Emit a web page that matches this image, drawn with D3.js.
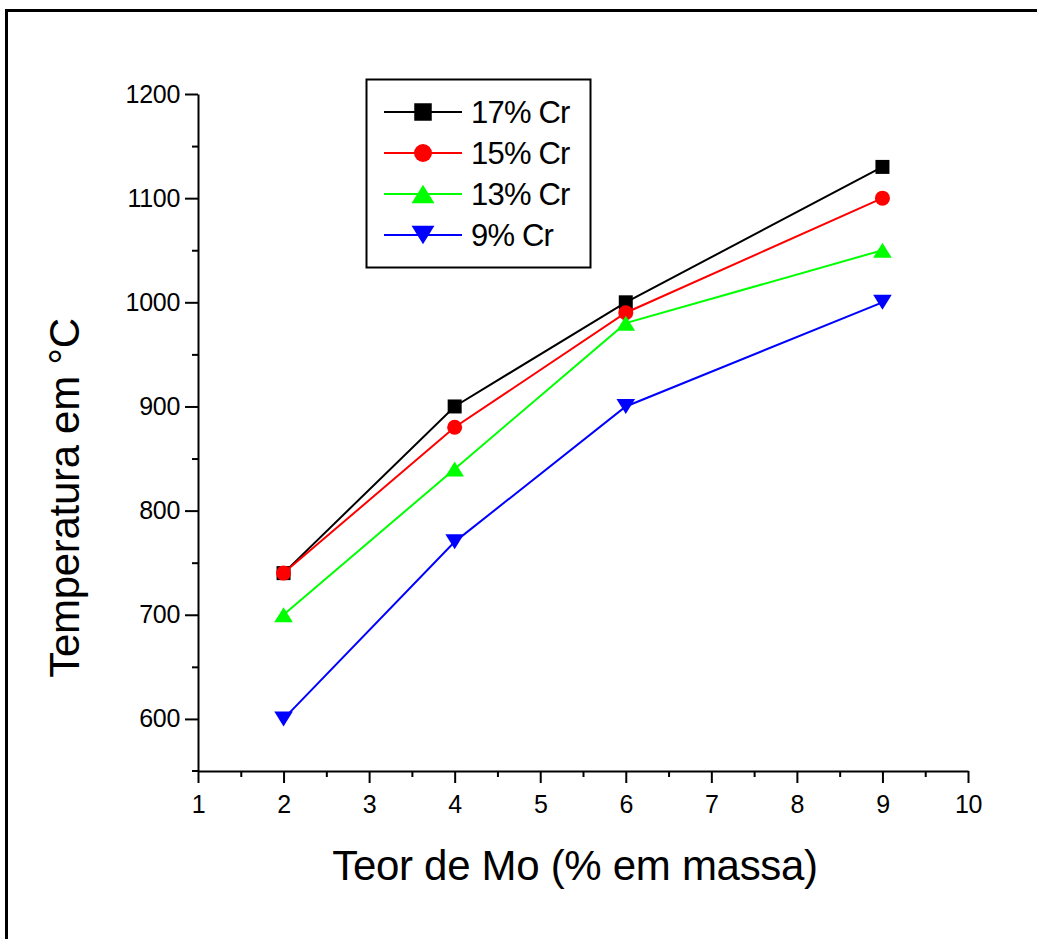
<!DOCTYPE html>
<html>
<head>
<meta charset="utf-8">
<script src="https://cdn.jsdelivr.net/npm/d3@7"></script>
<style>
  html, body { margin: 0; padding: 0; background: #fff; }
  svg { display: block; }
  text { font-family: "Liberation Sans", Arial, sans-serif; fill: #000; }
</style>
</head>
<body>
<svg id="chart" width="1037" height="939"></svg>
<script>
// ---- data ----
const moContent = [2, 4, 6, 9];            // x: Teor de Mo (% em massa)
const seriesNames = ["17% Cr", "15% Cr", "13% Cr", "9% Cr"];
const cr17 = [740, 900, 1000, 1130];
const cr15 = [740, 880, 990, 1100];
const cr13 = [700, 840, 980, 1050];
const cr9  = [600, 770, 900, 1000];
const xTicks = [1, 2, 3, 4, 5, 6, 7, 8, 9, 10];
const yTicks = [600, 700, 800, 900, 1000, 1100, 1200];
const xMinorTicks = [1.5, 2.5, 3.5, 4.5, 5.5, 6.5, 7.5, 8.5, 9.5];
const yMinorTicks = [650, 750, 850, 950, 1050, 1150];

const seriesValues = [cr17, cr15, cr13, cr9];
const colors = ["#000000", "#ff0000", "#00ff00", "#0000ff"];
const shapes = ["square", "circle", "up", "down"];

const svg = d3.select("#chart");

// outer frame
svg.append("path")
  .attr("d", "M6.5,939 V10.5 H1037")
  .attr("fill", "none").attr("stroke", "#000").attr("stroke-width", 3);

const x = d3.scaleLinear().domain([1, 10]).range([198, 968]);
const y = d3.scaleLinear().domain([550, 1200]).range([771, 94]);

function markerPath(shape, s) {
  const h = s / 2;
  if (shape === "square") return `M${-h},${-h}H${h}V${h}H${-h}Z`;
  if (shape === "circle") { const r = h; return `M${r},0A${r},${r} 0 1,1 ${-r},0A${r},${r} 0 1,1 ${r},0Z`; }
  const w = s * 0.62, th = s * 0.5;
  if (shape === "up") return `M0,${-th}L${w},${th}L${-w},${th}Z`;
  return `M0,${th}L${w},${-th}L${-w},${-th}Z`;
}
const plotSize = { square: 14, circle: 15, up: 15, down: 15 };
const legendSize = { square: 17.5, circle: 18, up: 18.5, down: 18.5 };

const fmt = d3.format("d");

// axes
svg.append("g").attr("transform", `translate(${x(1)},0)`)
  .call(d3.axisLeft(y).tickValues(yTicks).tickFormat(fmt).tickSize(13).tickSizeOuter(0).tickPadding(5));
svg.append("g").attr("transform", `translate(${x(1)},0)`)
  .call(d3.axisLeft(y).tickValues(yMinorTicks).tickSize(6).tickFormat(""))
  .select(".domain").remove();

svg.append("g").attr("transform", `translate(0,${y(550)})`)
  .call(d3.axisBottom(x).tickValues(xTicks).tickFormat(fmt).tickSize(12).tickSizeOuter(0).tickPadding(12));
svg.append("g").attr("transform", `translate(0,${y(550)})`)
  .call(d3.axisBottom(x).tickValues(xMinorTicks).tickSize(6).tickFormat(""))
  .select(".domain").remove();
svg.append("line").attr("x1", x(1) - 6).attr("x2", x(1)).attr("y1", y(550)).attr("y2", y(550))
  .attr("stroke", "#000").attr("stroke-width", 2);

svg.selectAll(".domain, .tick line").attr("stroke", "#000").attr("stroke-width", 2);
svg.selectAll(".tick text").attr("font-size", 25).attr("font-family", "'Liberation Sans', Arial, sans-serif")
  .attr("fill", "#000").attr("letter-spacing", -0.3);

// axis titles
svg.append("text").attr("x", 575).attr("y", 880).attr("text-anchor", "middle")
  .attr("font-size", 42).attr("letter-spacing", -0.3).text("Teor de Mo (% em massa)");
svg.append("text").attr("transform", "translate(79,498) rotate(-90)").attr("text-anchor", "middle")
  .attr("font-size", 42).attr("letter-spacing", -0.3).text("Temperatura em °C");

// series
const line = d3.line().x((d, i) => x(moContent[i])).y(d => y(d));
seriesValues.forEach((vals, k) => {
  const g = svg.append("g");
  g.append("path").datum(vals).attr("d", line).attr("fill", "none")
    .attr("stroke", colors[k]).attr("stroke-width", 2);
  g.selectAll("path.m").data(vals).enter().append("path").attr("class", "m")
    .attr("transform", (d, i) => `translate(${x(moContent[i])},${y(d)})`)
    .attr("d", markerPath(shapes[k], plotSize[shapes[k]]))
    .attr("fill", colors[k]);
});

// legend
const lg = svg.append("g");
lg.append("rect").attr("x", 366.5).attr("y", 79.5).attr("width", 224).attr("height", 188)
  .attr("fill", "#fff").attr("stroke", "#000").attr("stroke-width", 2);
seriesNames.forEach((name, k) => {
  const cy = 112 + k * 41;
  lg.append("line").attr("x1", 384).attr("x2", 462).attr("y1", cy).attr("y2", cy)
    .attr("stroke", colors[k]).attr("stroke-width", 2);
  lg.append("path").attr("transform", `translate(423,${cy})`)
    .attr("d", markerPath(shapes[k], legendSize[shapes[k]])).attr("fill", colors[k]);
  lg.append("text").attr("x", 471).attr("y", cy + 11).attr("font-size", 31)
    .attr("letter-spacing", -0.8).text(name);
});
</script>
</body>
</html>
